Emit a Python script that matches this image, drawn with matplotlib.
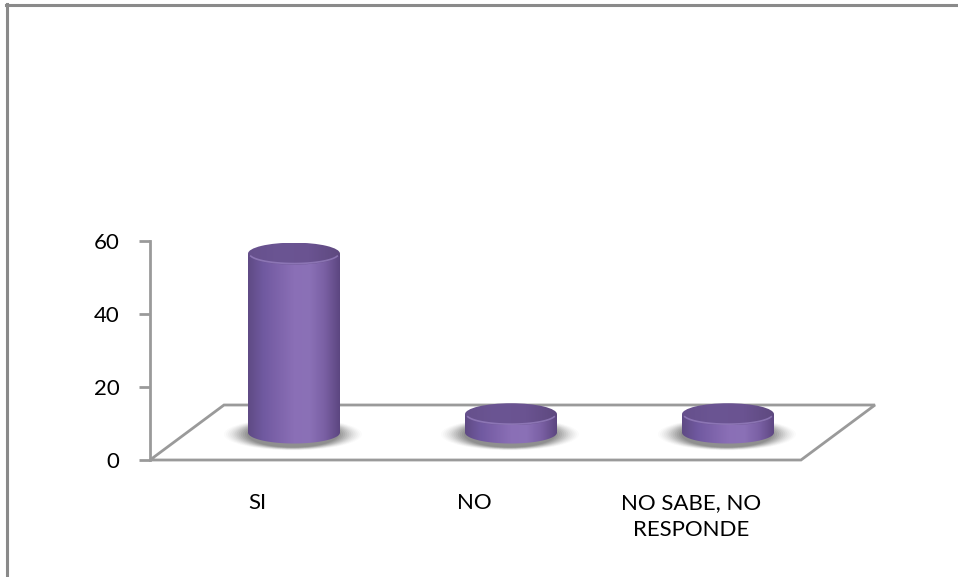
import numpy as np
import matplotlib.pyplot as plt
from matplotlib.patches import Polygon, Ellipse, PathPatch
from matplotlib.path import Path
from matplotlib.colors import LinearSegmentedColormap

# --- Data ---
categories = ["SI", "NO", "NO SABE, NO\nRESPONDE"]
values = [49, 5, 5]
yticks = [0, 20, 40, 60]

# --- Style / geometry (3D look) ---
PX_X = 217.0          # pixels per category
PX_Y = 3.65           # pixels per value unit
X0_PX, Y0_PX = 257.0, 460.0
DEPTH_X, DEPTH_Y = 74 / PX_X, 55 / PX_Y   # floor depth offset in data units
AXIS_X = (150 - X0_PX) / PX_X
FLOOR_RIGHT = (801 - X0_PX) / PX_X
HALF_W = 46 / PX_X
ELL_H = 11 / PX_Y
GRAY = "#9a9a9a"

body_cmap = LinearSegmentedColormap.from_list(
    "body", ["#5f4a84", "#7059a0", "#7e64ab", "#8a6fb6", "#8b71b7", "#7a60a4", "#5c4680"])
top_cmap = LinearSegmentedColormap.from_list(
    "top", ["#66508c", "#6b5593", "#6a5391", "#5e497f"])

plt.rcParams['font.family'] = ['Lato', 'DejaVu Sans']

fig = plt.figure(figsize=(9.58, 5.77), dpi=100)
ax = fig.add_axes([0, 0, 1, 1])
ax.set_xlim(-X0_PX / PX_X, (958 - X0_PX) / PX_X)
ax.set_ylim((Y0_PX - 577) / PX_Y, Y0_PX / PX_Y)

# outer chart border (left and top visible)
fig.add_artist(plt.Line2D([0.007, 0.007], [0, 0.993], transform=fig.transFigure,
                          color="#8a8a8a", lw=2.2))
fig.add_artist(plt.Line2D([0.006, 1], [0.992, 0.992], transform=fig.transFigure,
                          color="#8a8a8a", lw=2.2))

# floor
floor = Polygon([(AXIS_X, 0), (FLOOR_RIGHT, 0), (FLOOR_RIGHT + DEPTH_X, DEPTH_Y),
                 (AXIS_X + DEPTH_X, DEPTH_Y)], closed=True, fill=False,
                edgecolor=GRAY, lw=2, zorder=1)
ax.add_patch(floor)

# value axis
for s in ["top", "right", "bottom"]:
    ax.spines[s].set_visible(False)
ax.spines["left"].set_position(("data", AXIS_X))
ax.spines["left"].set_bounds(0, 60)
ax.spines["left"].set_color(GRAY)
ax.spines["left"].set_linewidth(2)
ax.set_yticks(yticks)
ax.tick_params(axis="y", length=8, width=2, color=GRAY, labelsize=16, pad=14)

ax.spines["bottom"].set_position(("data", 0))
ax.set_xticks(range(len(categories)))
ax.set_xticklabels(categories, linespacing=1.4)
ax.tick_params(axis="x", length=0, pad=24, labelsize=16)

# cylinders (standing at mid-depth of the floor)
base = DEPTH_Y / 2
for i, v in enumerate(values):
    xc = i + DEPTH_X / 2
    top = base + v
    # soft shadow
    for k, a in zip(np.linspace(1.5, 1.0, 12), np.linspace(0.02, 0.11, 12)):
        ax.add_patch(Ellipse((xc - 0.005, base - 0.5), 2 * HALF_W * k,
                             2 * ELL_H * (0.7 + 0.5 * k), color="#3c3c3c",
                             alpha=a, lw=0, zorder=2))
    # body path: rectangle + bottom half ellipse
    t = np.linspace(np.pi, 2 * np.pi, 60)
    bx = xc + HALF_W * np.cos(t)
    by = base + ELL_H * np.sin(t)
    verts = list(zip(bx, by)) + [(xc + HALF_W, top), (xc - HALF_W, top), (bx[0], by[0])]
    path = Path(verts, closed=True)
    patch = PathPatch(path, facecolor="none", edgecolor="none", zorder=3)
    ax.add_patch(patch)
    grad = np.linspace(0, 1, 256).reshape(1, -1)
    im = ax.imshow(grad, cmap=body_cmap, aspect="auto", zorder=3,
                   extent=(xc - HALF_W, xc + HALF_W, base - ELL_H, top))
    im.set_clip_path(patch)
    # top ellipse
    tp = Ellipse((xc, top), 2 * HALF_W, 2 * ELL_H, facecolor="none",
                 edgecolor="none", zorder=4)
    ax.add_patch(tp)
    im2 = ax.imshow(grad, cmap=top_cmap, aspect="auto", zorder=4,
                    extent=(xc - HALF_W, xc + HALF_W, top - ELL_H, top + ELL_H))
    im2.set_clip_path(tp)
    # light rim on the front edge of the top
    tt = np.linspace(np.pi * 1.08, np.pi * 1.92, 40)
    ax.plot(xc + HALF_W * 0.97 * np.cos(tt), top + ELL_H * 0.9 * np.sin(tt),
            color="#9b84c4", lw=1.2, alpha=0.7, zorder=5)

fig.savefig("out.png", dpi=100)
